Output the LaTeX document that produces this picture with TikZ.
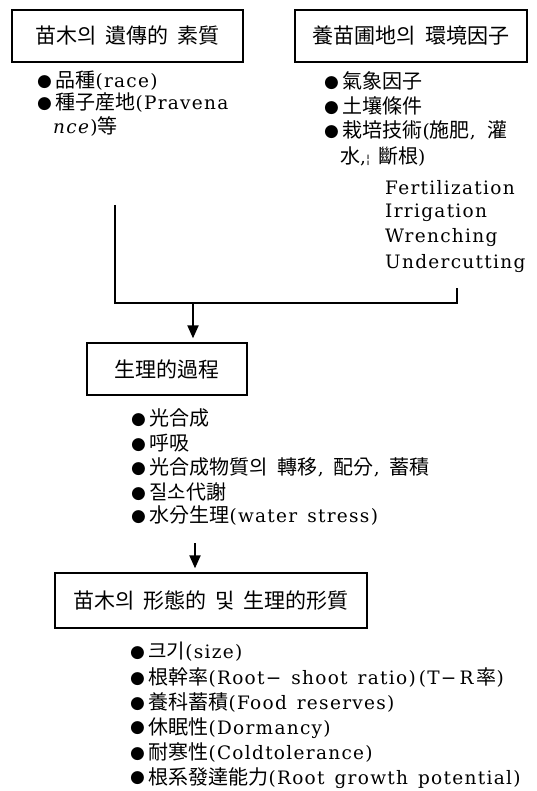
\documentclass[tikz,border=0pt]{standalone}
\usepackage{fontspec}
\setmainfont{DejaVu Serif}[LetterSpace=7]
\newfontfamily\cjk{Noto Sans CJK KR}
\newfontfamily\symf{DejaVu Sans}
\usetikzlibrary{arrows.meta}
\newcommand\K[1]{{\cjk\fontsize{20pt}{22pt}\selectfont #1}}
\newcommand\bul{\raisebox{1.4pt}{\symf\fontsize{17pt}{17pt}\selectfont ●}\hspace{3.5pt}}
\newcommand\widesp[1]{\spaceskip=#1\relax}
\begin{document}
\begin{tikzpicture}[x=1pt,y=-1pt,
  titlebox/.style={draw, line width=1.3pt, inner sep=0pt, font=\cjk\fontsize{21pt}{24pt}\selectfont},
  item/.style={anchor=west, inner sep=0pt, font=\fontsize{18.5pt}{22pt}\selectfont},
  conn/.style={line width=1.6pt},
  arr/.style={line width=2pt, shorten >=4pt, -{Triangle[length=13pt,width=11pt]}}]
\useasboundingbox[fill=white] (0,0) rectangle (536,791);
% top boxes
\node[titlebox, minimum width=231pt, minimum height=52pt] (gen) at (127.5,36) {\widesp{9pt}苗木의 遺傳的 素質};
\node[titlebox, minimum width=232pt, minimum height=52pt] (env) at (411,36) {\widesp{9pt}養苗圃地의 環境因子};
% genetic items
\node[item] (g1) at (37,81) {\bul\K{品種}(race)};
\node[item] (g2) at (37,103) {\bul\K{種子産地}(Pravena};
\node[item] (g3) at (53,126) {\textit{nce})\K{等}};
% environment items
\node[item] (e1) at (324,81) {\bul\K{氣象因子}};
\node[item] (e2) at (324,106) {\bul\K{土壤條件}};
\node[item] (e3) at (324,131) {\widesp{12pt}\bul\K{栽培技術}(\K{施肥}, \K{灌}};
\node[item] (e4) at (340,157) {\widesp{8pt}\K{水},{\fontsize{12pt}{12pt}\selectfont ¦} \K{斷根})};
\node[item] (e5) at (385,188) {Fertilization};
\node[item] (e6) at (385,213) {Irrigation};
\node[item] (e7) at (385,238) {Wrenching};
\node[item] (e8) at (385,264) {Undercutting};
% bracket
\coordinate (bl) at (115,205);
\coordinate (blb) at (115,303);
\coordinate (brb) at (457,303);
\coordinate (br) at (457,288);
\draw[conn] (bl) -- (blb) -- (brb) -- (br);
% physiological process
\node[titlebox, minimum width=160pt, minimum height=52pt] (proc) at (167,369) {生理的過程};
\coordinate (m1) at (193,303);
\draw[arr] (m1) -- (m1 |- proc.north);
\node[item] (p1) at (131,418) {\bul\K{光合成}};
\node[item] (p2) at (131,443) {\bul\K{呼吸}};
\node[item] (p3) at (131,467.5) {\widesp{10pt}\bul\K{光合成物質의 轉移}, \K{配分}, \K{蓄積}};
\node[item] (p4) at (131,492) {\bul\K{질소代謝}};
\node[item] (p5) at (131,516) {\widesp{10pt}\bul\K{水分生理}(water stress)};
% morphological
\node[titlebox, minimum width=312pt, minimum height=55pt] (morph) at (211,600.5) {\widesp{9pt}苗木의 形態的 및 生理的形質};
\coordinate (m2) at (195,543);
\draw[arr] (m2) -- (m2 |- morph.north);
\node[item] (q1) at (130,652) {\bul\K{크기}(size)};
\node[item] (q2) at (130,677.5) {\widesp{10pt}\bul\K{根幹率}(Root−\ shoot ratio)\,(T−\,R\,\K{率})};
\node[item] (q3) at (130,703) {\widesp{10pt}\bul\K{養科蓄積}(Food reserves)};
\node[item] (q4) at (130,728) {\bul\K{休眠性}(Dormancy)};
\node[item] (q5) at (130,753) {\bul\K{耐寒性}(Coldtolerance)};
\node[item] (q6) at (130,778) {\widesp{10pt}\bul\K{根系發達能力}(Root growth potential)};
\end{tikzpicture}
\end{document}
